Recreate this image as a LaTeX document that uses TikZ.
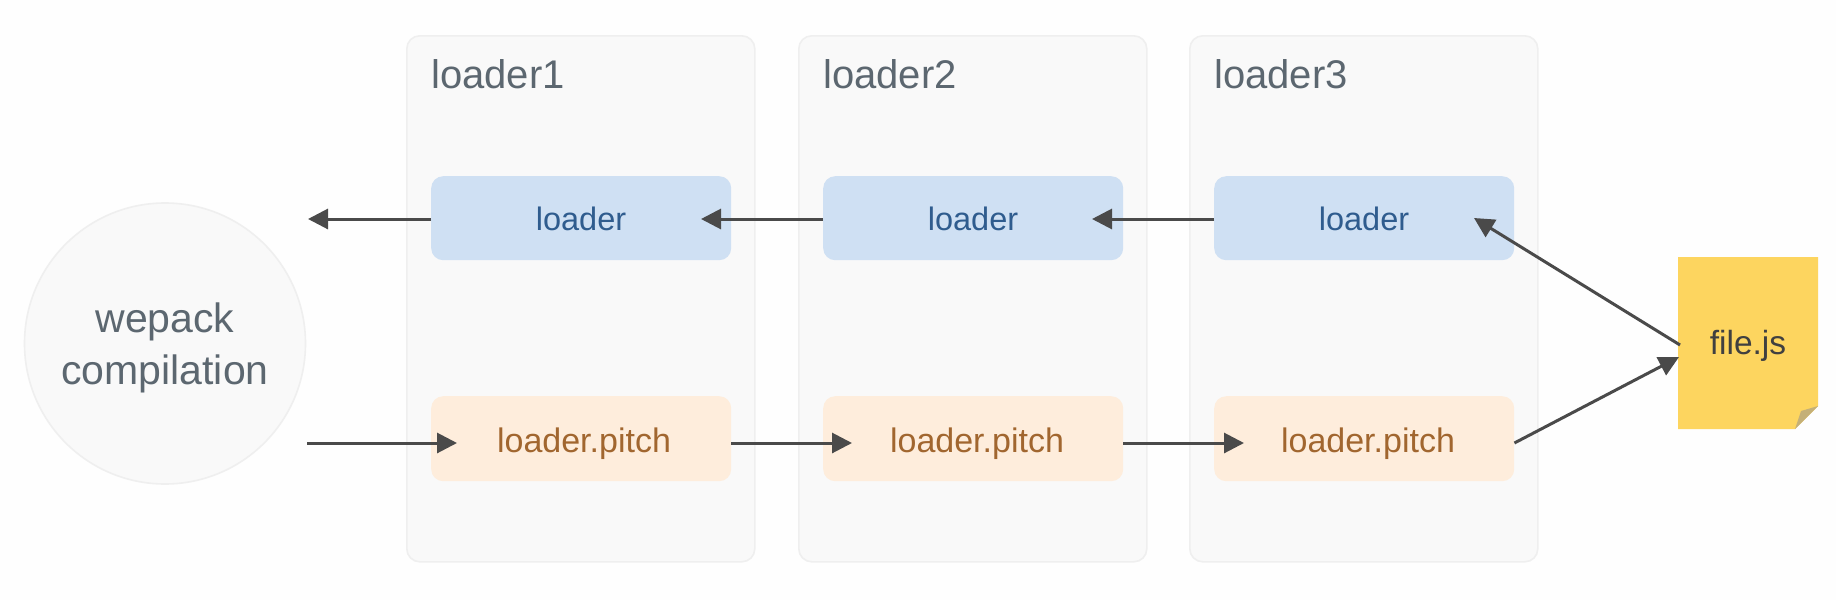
\documentclass[tikz,border=0pt]{standalone}
\usepackage{fontspec}
\setmainfont{Liberation Sans}
\usetikzlibrary{arrows.meta}
\definecolor{pagefill}{HTML}{FEFEFE}
\definecolor{panelfill}{HTML}{F9F9F9}
\definecolor{paneledge}{HTML}{EFEFEF}
\definecolor{titletext}{HTML}{5C6770}
\definecolor{bluefill}{HTML}{CFE0F3}
\definecolor{bluetext}{HTML}{2F5C8E}
\definecolor{orangefill}{HTML}{FEEDDC}
\definecolor{orangetext}{HTML}{A1662F}
\definecolor{notefill}{HTML}{FDD55F}
\definecolor{notefold}{HTML}{C4B078}
\definecolor{linecol}{HTML}{4A4A4A}
\tikzset{
  panelbox/.style={draw=paneledge,line width=1.6pt,fill=panelfill,rounded corners=13pt,minimum width=348pt,minimum height=526pt,inner sep=0pt,anchor=north west},
  paneltitle/.style={font=\fontsize{40}{42}\selectfont,text=titletext,anchor=base west,inner sep=0pt},
  bluebox/.style={fill=bluefill,rounded corners=12pt,minimum width=300pt,minimum height=84pt,inner sep=0pt,anchor=north west},
  orangebox/.style={fill=orangefill,rounded corners=12pt,minimum width=300pt,minimum height=85pt,inner sep=0pt,anchor=north west},
  boxtext/.style={font=\fontsize{32.5}{36}\selectfont,anchor=base,inner sep=0pt},
  pitchtext/.style={font=\fontsize{34}{36}\selectfont,anchor=base,inner sep=0pt},
  conn/.style={draw=linecol,line width=3pt,-{Triangle[length=20pt,width=20pt]}},
  compnode/.style={circle,draw=paneledge,line width=1.6pt,fill=panelfill,minimum size=281pt,inner sep=0pt},
  comptext/.style={font=\fontsize{41}{52}\selectfont,text=titletext,align=center,anchor=base,inner sep=0pt},
}
\begin{document}
\begin{tikzpicture}[x=1pt,y=-1pt]
\useasboundingbox (0,0) rectangle (1836,600);
\fill[pagefill] (0,0) rectangle (1836,600);

% panels
\node[panelbox] (p1) at (406,35) {};
\node[panelbox] (p2) at (798,35) {};
\node[panelbox] (p3) at (1189,35) {};
\node[paneltitle] (t1) at (431,88) {loader1};
\node[paneltitle] (t2) at (823,88) {loader2};
\node[paneltitle] (t3) at (1214,88) {loader3};

% boxes
\node[bluebox] (b1) at (431,176) {};
\node[bluebox] (b2) at (823,176) {};
\node[bluebox] (b3) at (1214,176) {};
\node[orangebox] (o1) at (431,396) {};
\node[orangebox] (o2) at (823,396) {};
\node[orangebox] (o3) at (1214,396) {};
\node[boxtext,text=bluetext] (bt1) at (581,230) {loader};
\node[boxtext,text=bluetext] (bt2) at (973,230) {loader};
\node[boxtext,text=bluetext] (bt3) at (1364,230) {loader};
\node[pitchtext,text=orangetext] (ot1) at (584,452) {loader.pitch};
\node[pitchtext,text=orangetext] (ot2) at (977,452) {loader.pitch};
\node[pitchtext,text=orangetext] (ot3) at (1368,452) {loader.pitch};

% circle
\node[compnode] (comp) at (165,343.5) {};
\node[comptext] (ct) at (165,384) {wepack\\compilation};

% file
\coordinate (fa) at (1678,257);
\coordinate (fb) at (1818,257);
\coordinate (fc) at (1818,406);
\coordinate (fd) at (1795,429);
\coordinate (fe) at (1678,429);
\fill[notefill] (fa) -- (fb) -- (fc) -- (fd) -- (fe) -- cycle;
\fill[notefold] (fc) -- (1801,411) -- (fd) -- cycle;
\node[font=\fontsize{33.5}{36}\selectfont,text=black!75,anchor=base,inner sep=0pt] (file) at (1748,354) {file.js};

% connector ends
\coordinate (outL) at (308,219);
\coordinate (tipB2) at (701,219);
\coordinate (tipB3) at (1092,219);
\coordinate (tipB4) at (1474,218);
\coordinate (inL) at (307,443);
\coordinate (tipO1) at (457,443);
\coordinate (tipO2) at (852,443);
\coordinate (tipO3) at (1244,443);
\coordinate (fileOut) at (1680,345);
\coordinate (fileIn) at (1679,357);

% connectors
\draw[conn] (b1.west |- outL) -- (outL);
\draw[conn] (b2.west |- tipB2) -- (tipB2);
\draw[conn] (b3.west |- tipB3) -- (tipB3);
\draw[conn] (fileOut) -- (tipB4);
\draw[conn] (inL) -- (tipO1);
\draw[conn] (o1.east |- tipO2) -- (tipO2);
\draw[conn] (o2.east |- tipO3) -- (tipO3);
\draw[conn] (o3.east |- inL) -- (fileIn);
\end{tikzpicture}
\end{document}
